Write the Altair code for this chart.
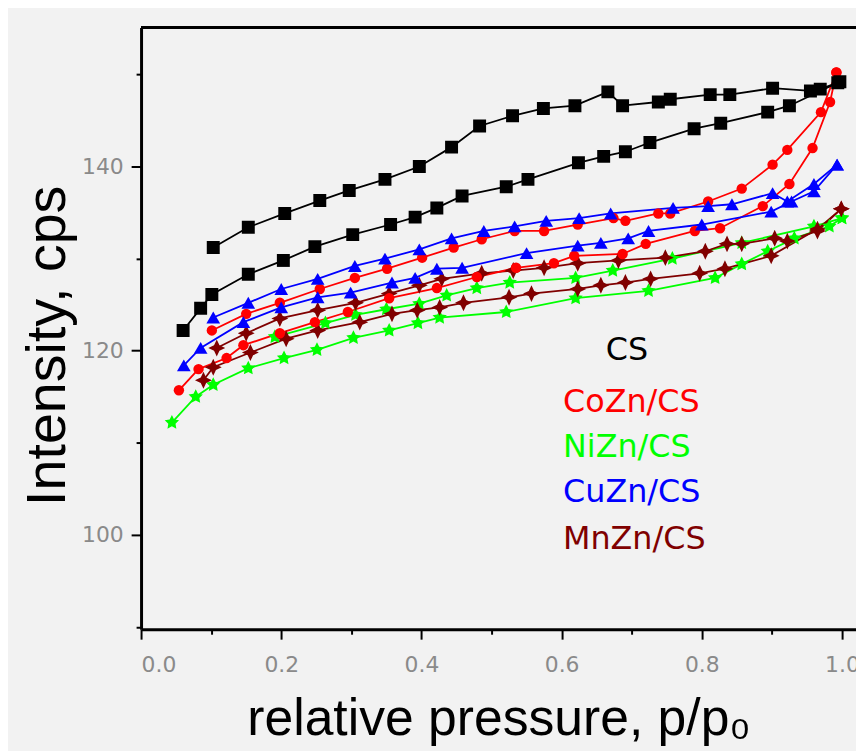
import altair as alt
import pandas as pd

series = ["CS", "CoZn/CS", "NiZn/CS", "CuZn/CS", "MnZn/CS"]
colors = ["#000000", "#ff0000", "#00ff00", "#0000ff", "#800000"]

# CS
cs_ads_p = [0.060, 0.085, 0.101, 0.153, 0.203, 0.248, 0.302, 0.356, 0.391, 0.422, 0.458, 0.521, 0.552, 0.624, 0.660, 0.691, 0.726, 0.789, 0.827, 0.894, 0.925, 0.997]
cs_ads_v = [122.2, 124.6, 126.1, 128.3, 129.8, 131.3, 132.6, 133.7, 134.5, 135.5, 136.8, 137.8, 138.6, 140.4, 141.1, 141.6, 142.6, 144.1, 144.7, 145.9, 146.6, 149.2]
cs_des_p = [0.994, 0.969, 0.955, 0.901, 0.840, 0.812, 0.755, 0.738, 0.687, 0.666, 0.619, 0.574, 0.530, 0.483, 0.443, 0.397, 0.348, 0.297, 0.255, 0.205, 0.153, 0.103]
cs_des_v = [149.1, 148.4, 148.2, 148.5, 147.8, 147.8, 147.3, 147.0, 146.6, 148.1, 146.6, 146.3, 145.5, 144.4, 142.1, 140.0, 138.6, 137.4, 136.3, 134.9, 133.4, 131.2]

# CoZn/CS
co_ads_p = [0.054, 0.082, 0.122, 0.146, 0.198, 0.248, 0.295, 0.354, 0.422, 0.479, 0.535, 0.589, 0.618, 0.687, 0.720, 0.790, 0.826, 0.887, 0.925, 0.958, 0.983, 0.992]
co_ads_v = [115.7, 118.0, 119.2, 120.6, 121.9, 123.1, 124.2, 125.7, 126.8, 128.0, 129.0, 129.5, 130.3, 130.5, 131.6, 133.0, 133.3, 135.7, 138.1, 142.0, 147.0, 150.2]
co_des_p = [0.992, 0.970, 0.922, 0.901, 0.857, 0.809, 0.755, 0.738, 0.691, 0.674, 0.623, 0.575, 0.533, 0.486, 0.446, 0.401, 0.351, 0.305, 0.255, 0.198, 0.150, 0.101]
co_des_v = [150.2, 145.9, 141.8, 140.2, 137.6, 136.2, 134.9, 134.9, 134.1, 134.4, 133.7, 133.0, 133.0, 132.1, 131.2, 130.1, 128.9, 127.9, 126.7, 125.2, 124.0, 122.2]

# NiZn/CS
ni_ads_p = [0.044, 0.078, 0.103, 0.153, 0.204, 0.251, 0.303, 0.354, 0.395, 0.426, 0.521, 0.620, 0.724, 0.819, 0.857, 0.894, 0.932, 0.982, 1.000]
ni_ads_v = [112.2, 115.0, 116.3, 118.1, 119.2, 120.1, 121.4, 122.2, 123.0, 123.6, 124.2, 125.7, 126.5, 127.9, 129.4, 130.8, 132.2, 133.5, 134.4]
ni_des_p = [1.000, 0.960, 0.857, 0.758, 0.673, 0.620, 0.526, 0.479, 0.436, 0.397, 0.350, 0.306, 0.263, 0.191]
ni_des_v = [134.4, 133.5, 131.7, 130.0, 128.7, 127.9, 127.4, 126.8, 126.0, 125.1, 124.5, 123.9, 123.0, 121.5]

# CuZn/CS
cu_ads_p = [0.061, 0.085, 0.146, 0.200, 0.252, 0.299, 0.358, 0.391, 0.422, 0.458, 0.550, 0.623, 0.656, 0.695, 0.724, 0.800, 0.899, 0.928, 0.960, 0.993]
cu_ads_v = [118.4, 120.3, 123.1, 124.7, 125.8, 126.3, 127.4, 127.9, 128.9, 129.0, 130.6, 131.4, 131.7, 132.2, 133.0, 133.7, 135.1, 136.2, 137.3, 140.2]
cu_des_p = [0.993, 0.960, 0.922, 0.901, 0.843, 0.809, 0.759, 0.670, 0.625, 0.578, 0.533, 0.489, 0.443, 0.397, 0.348, 0.305, 0.252, 0.200, 0.153, 0.103]
cu_des_v = [140.2, 138.1, 136.2, 137.1, 135.9, 135.7, 135.5, 134.9, 134.4, 134.1, 133.5, 133.0, 132.2, 131.0, 130.0, 129.2, 127.8, 126.7, 125.2, 123.6]

# MnZn/CS
mn_ads_p = [0.089, 0.103, 0.156, 0.207, 0.252, 0.312, 0.358, 0.394, 0.426, 0.460, 0.525, 0.557, 0.623, 0.656, 0.691, 0.727, 0.797, 0.833, 0.899, 0.965, 0.999]
mn_ads_v = [116.8, 118.2, 119.8, 121.3, 122.2, 123.1, 124.0, 124.4, 124.7, 125.2, 125.8, 126.2, 126.7, 127.1, 127.4, 127.8, 128.4, 128.9, 130.3, 133.2, 135.4]
mn_des_p = [0.999, 0.965, 0.922, 0.904, 0.857, 0.836, 0.805, 0.748, 0.681, 0.623, 0.575, 0.531, 0.486, 0.429, 0.397, 0.354, 0.306, 0.252, 0.198, 0.150, 0.108]
mn_des_v = [135.4, 133.0, 131.9, 132.2, 131.6, 131.6, 130.8, 130.1, 129.8, 129.5, 129.0, 128.7, 128.4, 127.8, 127.1, 126.2, 125.2, 124.4, 123.5, 121.9, 120.3]

x_major = [0.0, 0.2, 0.4, 0.6, 0.8, 1.0]
x_minor = [0.1, 0.3, 0.5, 0.7, 0.9]
y_major = [100, 120, 140]
y_minor = [90, 110, 130, 150]

branches = {
    "CS": [(cs_ads_p, cs_ads_v), (cs_des_p, cs_des_v)],
    "CoZn/CS": [(co_ads_p, co_ads_v), (co_des_p, co_des_v)],
    "NiZn/CS": [(ni_ads_p, ni_ads_v), (ni_des_p, ni_des_v)],
    "CuZn/CS": [(cu_ads_p, cu_ads_v), (cu_des_p, cu_des_v)],
    "MnZn/CS": [(mn_ads_p, mn_ads_v), (mn_des_p, mn_des_v)],
}
draw_order = ["NiZn/CS", "MnZn/CS", "CoZn/CS", "CuZn/CS", "CS"]

rows = []
for name in draw_order:
    for b, (ps, vs) in enumerate(branches[name]):
        for i, (p, v) in enumerate(zip(ps, vs)):
            rows.append({"series": name, "branch": f"{name}-{b}", "i": i, "p": p, "v": v})
df = pd.DataFrame(rows)

star5 = "M0,-1L0.3,-0.4L0.95,-0.31L0.48,0.16L0.59,0.81L0,0.5L-0.59,0.81L-0.48,0.16L-0.95,-0.31L-0.3,-0.4Z"
star4 = "M0,-1L0.32,-0.32L1,0L0.32,0.32L0,1L-0.32,0.32L-1,0L-0.32,-0.32Z"
shapes = ["square", "circle", star5, "triangle-up", star4]
sizes = [170, 110, 230, 190, 290]

W, H = 720, 606
xscale = alt.Scale(domain=[0, 1.02], nice=False, zero=False)
yscale = alt.Scale(domain=[89.76, 155.09], nice=False, zero=False)
cscale = alt.Scale(domain=series, range=colors)

lab = dict(labelColor="#8a8a8a", labelFont="DejaVu Sans", labelFontSize=22,
           domainColor="black", domainWidth=3, tickColor="black", tickWidth=2, grid=False)

x_main = alt.X("p:Q", scale=xscale, axis=alt.Axis(
    values=x_major, format=".1f", tickSize=10, labelPadding=16, orient="bottom",
    title="relative pressure, p/p₀", titleFont="Liberation Sans", titleFontSize=52,
    titleFontWeight="normal", titleColor="black", titleBaseline="alphabetic", titleY=106, **lab))
y_main = alt.Y("v:Q", scale=yscale, axis=alt.Axis(
    values=y_major, tickSize=10, labelPadding=8, orient="left",
    title="Intensity, cps", titleFont="Liberation Sans", titleFontSize=56,
    titleFontWeight="normal", titleColor="black", titleAngle=270, titleX=-94, titleY=320,
    titleAlign="center", titleBaseline="middle", **lab))
x_min = alt.X("p:Q", scale=xscale, axis=alt.Axis(
    values=x_minor, tickSize=5, labels=False, domain=False, title=None, orient="bottom",
    tickColor="black", tickWidth=2, grid=False))
y_min = alt.Y("v:Q", scale=yscale, axis=alt.Axis(
    values=y_minor, tickSize=5, labels=False, domain=False, title=None, orient="left",
    tickColor="black", tickWidth=2, grid=False))

lines = alt.Chart(df).mark_line(strokeWidth=1.8, clip=True).encode(
    x=x_main, y=y_main,
    color=alt.Color("series:N", scale=cscale, legend=None),
    detail="branch:N", order="i:Q")

points = alt.Chart(df).mark_point(filled=True, opacity=1, clip=True).encode(
    x=x_min, y=y_min,
    color=alt.Color("series:N", scale=cscale, legend=None),
    shape=alt.Shape("series:N", scale=alt.Scale(domain=series, range=shapes), legend=None),
    size=alt.Size("series:O", scale=alt.Scale(type="ordinal", domain=series, range=sizes), legend=None))

top = alt.Chart(df).mark_rule(color="black", strokeWidth=3).encode(
    x=alt.value(0), x2=alt.value(W), y=alt.value(0))

legend_x = [468, 425, 425, 425, 425]
legend_y = [325, 377, 423, 468, 515]
legend_layers = []
for name, col, lx, ly in zip(series, colors, legend_x, legend_y):
    legend_layers.append(
        alt.Chart(pd.DataFrame({"t": [name]})).mark_text(
            align="left", baseline="middle", font="DejaVu Sans", fontSize=32, color=col
        ).encode(x=alt.value(lx), y=alt.value(ly), text="t:N"))

chart = alt.layer(lines, points, top, *legend_layers).resolve_axis(
    x="independent", y="independent").properties(
    width=W, height=H,
    autosize=alt.AutoSizeParams(type="none"),
    padding={"left": 134, "top": 17, "right": 0, "bottom": 120},
    background="#f2f2f2",
).configure_view(stroke=None)

chart.save("out.html", embed_options={"renderer": "svg", "actions": False})
